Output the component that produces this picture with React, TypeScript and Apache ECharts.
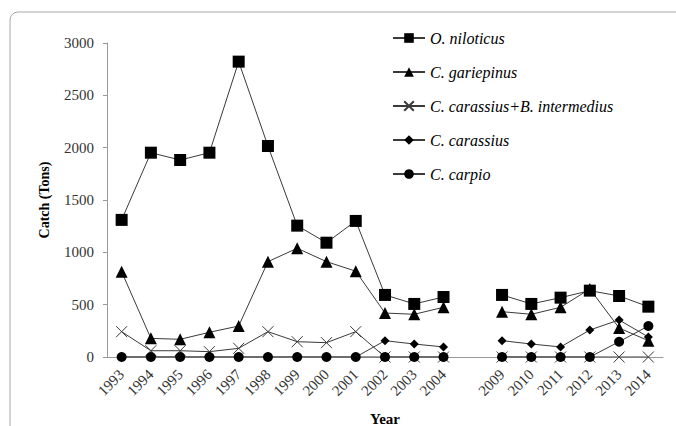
import React, { useEffect, useRef } from "react";
import * as echarts from "echarts";

const years = ["1993","1994","1995","1996","1997","1998","1999","2000","2001","2002","2003","2004","","2009","2010","2011","2012","2013","2014"];
const niloticus = [1310,1952,1882,1952,2822,2016,1255,1092,1300,593,507,573,null,593,507,567,634,583,481];
const gariepinus = [815,178,169,236,296,911,1039,911,820,420,408,475,null,433,408,475,650,277,156];
const carassiusInter = [242,60,60,51,83,242,146,137,242,0,0,0,null,0,0,0,0,0,0];
const carassius = [0,0,0,0,0,0,0,0,0,156,124,96,null,156,124,96,258,354,191];
const carpio = [0,0,0,0,0,0,0,0,0,0,0,0,null,0,0,0,0,146,296];

const names = ["O. niloticus","C. gariepinus","C. carassius+B. intermedius","C. carassius","C. carpio"];

const FONT = "'Liberation Serif', 'Times New Roman', serif";

export default function App() {
  const ref = useRef<HTMLDivElement>(null);
  useEffect(() => {
    const chart = echarts.init(ref.current!, null, { renderer: "svg" });
    const mk = (name: string, data: (number | null)[], symbol: string, size: number, cross = false) => ({
      name,
      type: "line",
      data,
      symbol,
      symbolSize: size,
      connectNulls: false,
      lineStyle: { color: "#3a3a3a", width: 1 },
      itemStyle: cross
        ? { color: "rgba(0,0,0,0)", borderColor: "#3a3a3a", borderWidth: 1 }
        : { color: "#000", borderWidth: 0 },
      emphasis: { disabled: true },
    });
    chart.setOption({
      animation: false,
      graphic: [
        {
          type: "rect",
          shape: { x: 10, y: 12, width: 720, height: 460, r: 8 },
          style: { fill: "none", stroke: "#a8a8a8", lineWidth: 1 },
          silent: true,
        },
      ],
      legend: {
        data: names,
        orient: "vertical",
        left: 387,
        top: 25,
        itemWidth: 32,
        itemHeight: 12,
        itemGap: 18,
        textStyle: { fontFamily: FONT, fontStyle: "italic", fontSize: 16, color: "#000" },
      },
      grid: { left: 107, right: 13, top: 43, bottom: 69, outerBoundsMode: "none", containLabel: false },
      xAxis: {
        type: "category",
        data: years,
        boundaryGap: true,
        name: "Year",
        nameLocation: "middle",
        nameGap: 54,
        nameTextStyle: { fontFamily: FONT, fontWeight: "bold", fontSize: 15, color: "#000" },
        axisLine: { lineStyle: { color: "#999" } },
        axisTick: { show: false },
        axisLabel: { rotate: 45, interval: 0, fontFamily: FONT, fontSize: 15, color: "#333", margin: 15 },
      },
      yAxis: {
        type: "value",
        min: 0,
        max: 3000,
        interval: 500,
        name: "Catch (Tons)",
        nameLocation: "middle",
        nameRotate: 90,
        nameGap: 56,
        nameTextStyle: { fontFamily: FONT, fontWeight: "bold", fontSize: 14, color: "#000" },
        axisLine: { show: true, lineStyle: { color: "#999" } },
        axisTick: { show: true, length: 4, lineStyle: { color: "#999" } },
        splitLine: { show: false },
        axisLabel: { fontFamily: FONT, fontSize: 15, color: "#333", margin: 13, formatter: (v: number) => String(v) },
      },
      series: [
        mk(names[0], niloticus, "rect", 12),
        mk(names[1], gariepinus, "triangle", 12),
        mk(names[2], carassiusInter, "path://M0,0L10,10M10,0L0,10", 11, true),
        mk(names[3], carassius, "diamond", 9),
        mk(names[4], carpio, "circle", 10),
      ],
    });
    return () => chart.dispose();
  }, []);
  return <div ref={ref} style={{ width: 676, height: 426, position: "absolute", left: 0, top: 0 }} />;
}
